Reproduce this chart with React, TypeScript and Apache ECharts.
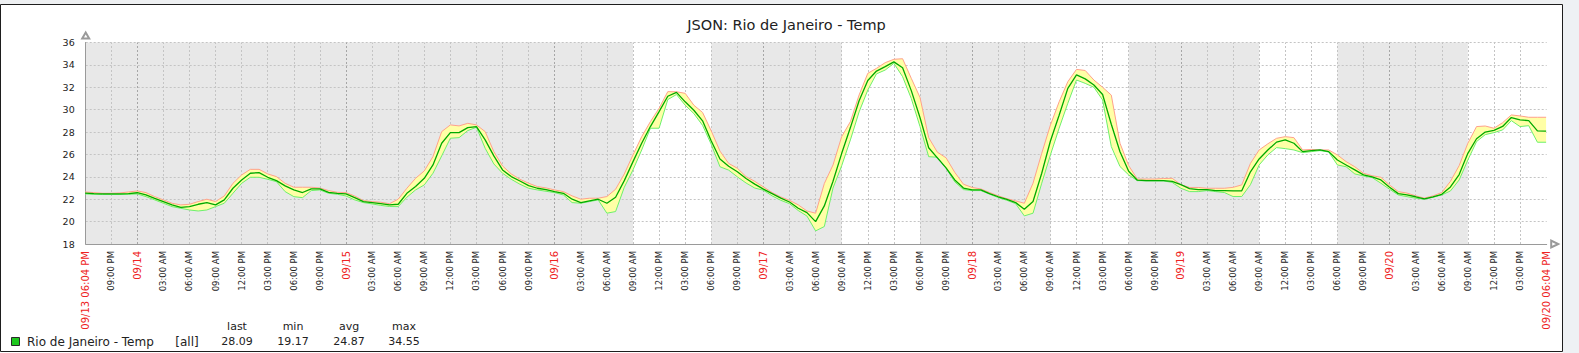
import React, { useEffect, useRef } from "react";
import * as echarts from "echarts";

// Hourly trend values, h = hours since 09/13 18:00 (0..168)
const avgValues = [
  22.55, 22.5, 22.47, 22.47, 22.48, 22.5, 22.58, 22.38, 22.08, 21.79, 21.49, 21.28, 21.34, 21.55, 21.7, 21.49, 21.94, 22.98, 23.72, 24.32,
  24.38, 23.96, 23.66, 23.19, 22.83, 22.6, 22.92, 22.92, 22.62, 22.53, 22.47, 22.14, 21.79, 21.7, 21.6, 21.5, 21.55, 22.53, 23.13, 23.87,
  25.06, 27.0, 27.95, 27.95, 28.4, 28.49, 27.3, 25.87, 24.62, 24.02, 23.63, 23.22, 22.98, 22.86, 22.68, 22.53, 22.0, 21.7, 21.85, 22.0,
  21.64, 22.18, 23.66, 25.36, 27.0, 28.49, 29.83, 31.2, 31.55, 30.7, 29.95, 29.0, 27.2, 25.6, 24.95, 24.45, 23.85, 23.35, 22.9, 22.5,
  22.1, 21.75, 21.19, 20.8, 20.0, 21.4, 23.6, 26.1, 28.4, 30.8, 32.6, 33.45, 33.84, 34.27, 33.75, 31.7, 29.3, 26.6, 25.7, 24.8,
  23.72, 23.0, 22.83, 22.83, 22.5, 22.22, 21.98, 21.7, 21.1, 21.8, 24.32, 27.2, 29.5, 31.9, 33.1, 32.75, 32.2, 31.35, 28.7, 26.24,
  24.5, 23.7, 23.66, 23.66, 23.66, 23.6, 23.3, 22.95, 22.85, 22.85, 22.77, 22.77, 22.75, 22.75, 24.45, 25.6, 26.4, 27.1, 27.3, 27.0,
  26.25, 26.35, 26.4, 26.25, 25.5, 25.06, 24.62, 24.17, 24.0, 23.72, 23.07, 22.5, 22.38, 22.22, 22.03, 22.2, 22.44, 23.1, 24.2, 26.1,
  27.4, 28.0, 28.15, 28.5, 29.3, 29.08, 29.02, 28.1, 28.09,
];
const minValues = [
  22.47, 22.44, 22.42, 22.42, 22.42, 22.44, 22.47, 22.23, 21.94, 21.64, 21.34, 21.19, 21.04, 20.95, 21.04, 21.34, 21.64, 22.53, 23.42, 23.96,
  23.96, 23.78, 23.57, 22.68, 22.23, 22.14, 22.77, 22.83, 22.53, 22.44, 22.29, 21.94, 21.7, 21.58, 21.45, 21.35, 21.34, 22.18, 22.83, 23.28,
  24.32, 25.87, 27.45, 27.5, 28.13, 28.43, 26.55, 25.15, 24.32, 23.78, 23.34, 22.98, 22.83, 22.71, 22.59, 22.38, 21.7, 21.64, 21.79, 21.94,
  20.75, 20.9, 23.07, 24.62, 26.4, 28.34, 28.34, 30.9, 31.35, 30.4, 29.65, 28.6, 26.9, 24.9, 24.6, 24.0, 23.45, 23.0, 22.8, 22.3,
  21.9, 21.6, 20.99, 20.5, 19.17, 19.56, 23.0, 25.0, 27.3, 29.8, 31.75, 33.2, 33.54, 34.14, 32.95, 31.0, 28.5, 25.8, 25.75, 24.77,
  23.55, 22.86, 22.77, 22.77, 22.45, 22.15, 21.9, 21.6, 20.51, 20.75, 23.43, 25.96, 28.34, 30.57, 32.65, 32.35, 32.0, 30.87, 26.7, 24.92,
  24.17, 23.66, 23.64, 23.64, 23.64, 23.5, 22.98, 22.68, 22.68, 22.77, 22.68, 22.6, 22.24, 22.24, 23.3, 25.06, 25.96, 26.61, 26.52, 26.4,
  26.16, 26.25, 26.34, 26.22, 25.06, 24.9, 24.26, 24.08, 23.93, 23.43, 22.89, 22.38, 22.23, 22.09, 22.0, 22.18, 22.38, 22.74, 23.72, 25.5,
  27.15, 27.77, 27.95, 28.19, 29.02, 28.49, 28.57, 27.09, 27.09,
];
const maxValues = [
  22.65, 22.59, 22.53, 22.53, 22.56, 22.65, 22.74, 22.59, 22.23, 21.94, 21.64, 21.49, 21.55, 21.79, 22.0, 21.79, 22.29, 23.42, 24.17, 24.67,
  24.67, 24.26, 24.02, 23.42, 23.07, 23.07, 23.07, 23.0, 22.77, 22.62, 22.59, 22.29, 21.88, 21.79, 21.73, 21.6, 22.0, 22.98, 23.87, 24.53,
  25.81, 28.04, 28.64, 28.55, 28.78, 28.64, 28.04, 26.25, 24.97, 24.26, 23.78, 23.43, 23.13, 23.01, 22.83, 22.68, 22.3, 22.0, 22.09, 22.09,
  22.24, 22.89, 24.26, 25.96, 27.59, 28.93, 30.12, 31.61, 31.6, 31.46, 30.4, 29.75, 28.1, 26.3, 25.2, 24.77, 24.02, 23.6, 23.1, 22.6,
  22.2, 21.9, 21.5, 20.95, 20.75, 23.4, 25.06, 27.6, 28.93, 31.31, 33.25, 33.69, 34.2, 34.5, 34.55, 32.8, 31.1, 27.5, 26.2, 25.7,
  24.4, 23.34, 23.05, 22.92, 22.6, 22.3, 22.05, 21.85, 21.64, 23.43, 26.1, 28.63, 30.7, 32.5, 33.6, 33.5, 32.65, 32.0, 31.3, 27.0,
  25.0, 23.8, 23.8, 23.8, 23.85, 23.87, 23.3, 23.05, 23.05, 22.98, 22.98, 22.98, 23.06, 23.28, 25.2, 26.4, 26.95, 27.44, 27.59, 27.5,
  26.4, 26.45, 26.4, 26.4, 25.96, 25.36, 24.9, 24.32, 24.1, 23.96, 23.27, 22.68, 22.55, 22.3, 22.1, 22.3, 22.6, 23.6, 25.0, 27.0,
  28.49, 28.54, 28.34, 28.84, 29.53, 29.44, 29.32, 29.32, 29.32,
];

// Non-working (grey) periods, hours since 09/13 18:00
const nonWorkStart = [4 / 60, 72, 96, 120, 144];
const nonWorkEnd = [63, 87, 111, 135, 159];

const X_MIN = 4 / 60; // 09/13 06:04 PM
const X_MAX = 168 + 4 / 60; // 09/20 06:04 PM
const tickHours = [X_MIN, ...Array.from({ length: 55 }, (_, i) => 3 * (i + 1)), X_MAX];
const startLabel = "09/13 06:04 PM";
const endLabel = "09/20 06:04 PM";

const yTicks = { min: 18, max: 36, interval: 2 };

const title = "JSON: Rio de Janeiro - Temp";
const legendName = "Rio de Janeiro - Temp";
const legendHeaders = ["last", "min", "avg", "max"];
const legendStats = ["28.09", "19.17", "24.87", "34.55"];

const FONT = "DejaVu Sans";

function pad(n: number) {
  return n < 10 ? "0" + n : "" + n;
}
function isMidnight(h: number) {
  return Math.abs((18 + h) % 24) < 1e-6;
}
function tickLabel(h: number) {
  if (Math.abs(h - X_MIN) < 1e-6) return "{r|" + startLabel + "}";
  if (Math.abs(h - X_MAX) < 1e-6) return "{r|" + endLabel + "}";
  const total = Math.round(18 + h);
  const day = 13 + Math.floor(total / 24);
  const hod = total % 24;
  if (hod === 0) return "{r|09/" + pad(day) + "}";
  const ampm = hod < 12 ? "AM" : "PM";
  const h12 = hod % 12 === 0 ? 12 : hod % 12;
  return "{b|" + pad(h12) + ":00 " + ampm + "}";
}

export default function App() {
  const ref = useRef<HTMLDivElement>(null);
  useEffect(() => {
    const chart = echarts.init(ref.current!, null, { renderer: "svg" });
    const hours = avgValues.map((_, i) => i);
    const minData = hours.map((h) => [h, minValues[h]]);
    const maxData = hours.map((h) => [h, maxValues[h]]);
    const avgData = hours.map((h) => [h, avgValues[h]]);

    const legendX = [237, 293, 349, 404];

    const option: any = {
      animation: false,
      backgroundColor: "#ffffff",
      grid: { left: 85.7, right: 32.3, top: 42.5, bottom: 109, containLabel: false },
      xAxis: {
        type: "value",
        min: X_MIN,
        max: X_MAX,
        z: 1.5,
        axisLine: {
          show: true,
          lineStyle: { color: "#9a9a9a", width: 1 },
          symbol: ["none", "emptyTriangle"],
          symbolSize: [7, 7],
          symbolOffset: [0, 8],
        },
        axisTick: { show: false, customValues: tickHours },
        splitLine: { show: false },
        axisLabel: {
          customValues: tickHours,
          showMinLabel: true,
          showMaxLabel: true,
          rotate: 90,
          margin: 7,
          formatter: (v: number) => tickLabel(v),
          rich: {
            r: { color: "#ee2222", fontSize: 10, fontFamily: FONT },
            b: { color: "#222222", fontSize: 8.5, fontFamily: FONT },
          },
        },
      },
      yAxis: {
        type: "value",
        min: yTicks.min,
        max: yTicks.max,
        interval: yTicks.interval,
        z: 1.5,
        axisLine: {
          show: true,
          lineStyle: { color: "#9a9a9a", width: 1 },
          symbol: ["none", "emptyTriangle"],
          symbolSize: [7, 6],
          symbolOffset: [0, 7],
        },
        axisTick: { show: false },
        axisLabel: { color: "#222222", fontSize: 9.5, fontFamily: FONT, margin: 11 },
        splitLine: { show: true, lineStyle: { color: "#c4c4c4", type: [2, 2], width: 1 } },
      },
      series: [
        {
          name: "band",
          type: "custom",
          silent: true,
          z: 2,
          data: [0],
          renderItem: (params: any, api: any) => {
            const upper = maxValues.map((v, h) => api.coord([h, v]));
            const lower = minValues.map((v, h) => api.coord([h, v])).reverse();
            const cs = params.coordSys;
            return {
              type: "group",
              clipPath: { type: "rect", shape: { x: cs.x, y: cs.y, width: cs.width, height: cs.height } },
              children: [
                {
                  type: "polygon",
                  shape: { points: upper.concat(lower) },
                  style: { fill: "#ffffa6", stroke: "none" },
                },
              ],
            };
          },
          markArea: {
            silent: true,
            z: 1,
            itemStyle: { color: "#e8e8e8" },
            data: nonWorkStart.map((s, i) => [{ xAxis: s }, { xAxis: nonWorkEnd[i] }]),
          },
          markLine: {
            silent: true,
            z: 1.5,
            symbol: ["none", "none"],
            label: { show: false },
            data: tickHours.slice(1, -1).map((h) => ({
              xAxis: h,
              lineStyle: {
                color: isMidnight(h) ? "#a6a6a6" : "#c4c4c4",
                type: [2, 2],
                width: 1,
              },
            })),
          },
        },
        {
          name: "max",
          type: "line",
          data: maxData,
          symbol: "none",
          silent: true,
          z: 3,
          lineStyle: { color: "#ffa08c", width: 1 },
        },
        {
          name: "min",
          type: "line",
          data: minData,
          symbol: "none",
          silent: true,
          z: 4,
          lineStyle: { color: "#6cf06c", width: 1 },
        },
        {
          name: "avg",
          type: "line",
          data: avgData,
          symbol: "none",
          silent: true,
          z: 5,
          lineStyle: { color: "#00aa00", width: 1.3 },
        },
      ],
      graphic: [
        { type: "rect", shape: { x: 0, y: 0, width: 1563, height: 4 }, style: { fill: "#eef0f2" }, silent: true },
        { type: "rect", shape: { x: 1563, y: 0, width: 16, height: 353 }, style: { fill: "#eef1f4" }, silent: true },
        {
          type: "rect",
          shape: { x: 0.5, y: 4.5, width: 1562, height: 347 },
          style: { fill: "none", stroke: "#1e1e1e", lineWidth: 1 },
          silent: true,
        },
        {
          type: "text",
          x: 786.5,
          y: 25,
          style: {
            text: title,
            fill: "#222222",
            font: "14.5px '" + FONT + "'",
            textAlign: "center",
            textVerticalAlign: "middle",
          },
        },
        {
          type: "rect",
          shape: { x: 11.5, y: 337.5, width: 8, height: 8 },
          style: { fill: "#1ec81e", stroke: "#2a2a2a", lineWidth: 1 },
        },
        {
          type: "text",
          x: 27,
          y: 341.5,
          style: { text: legendName, fill: "#222222", font: "12px '" + FONT + "'", textVerticalAlign: "middle" },
        },
        {
          type: "text",
          x: 187,
          y: 341.5,
          style: { text: "[all]", fill: "#222222", font: "12px '" + FONT + "'", textAlign: "center", textVerticalAlign: "middle" },
        },
        ...legendHeaders.map((t, i) => ({
          type: "text",
          x: legendX[i],
          y: 326.5,
          style: { text: t, fill: "#222222", font: "11px '" + FONT + "'", textAlign: "center", textVerticalAlign: "middle" },
        })),
        ...legendStats.map((t, i) => ({
          type: "text",
          x: legendX[i],
          y: 341.5,
          style: { text: t, fill: "#222222", font: "11px '" + FONT + "'", textAlign: "center", textVerticalAlign: "middle" },
        })),
      ],
    };
    chart.setOption(option);
    return () => chart.dispose();
  }, []);
  return (
    <div
      ref={ref}
      style={{ position: "fixed", left: 0, top: 0, width: 1579, height: 353, background: "#ffffff" }}
    />
  );
}
